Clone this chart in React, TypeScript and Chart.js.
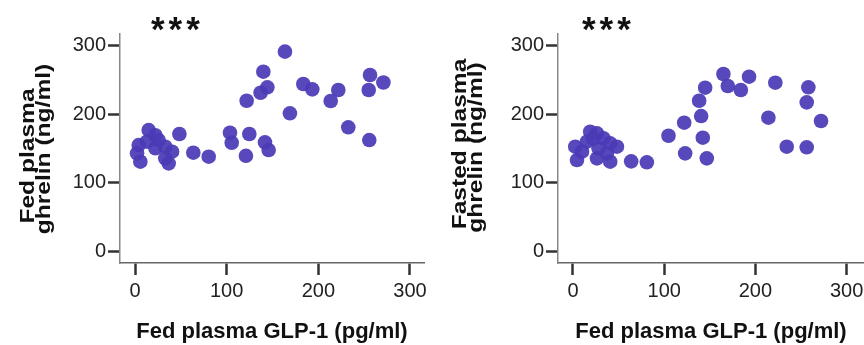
import React, { useEffect, useRef } from "react";
import { Chart, registerables } from "chart.js";

Chart.register(...registerables);

// ---- data ----
const fedGlp1Left: number[] = [
  163.6, 140, 121.8, 137, 144.4, 183.6, 193.4, 221.8, 213.5, 169,
  256.4, 271, 255, 232.7, 255.6, 103.6, 105.5, 124.7, 141.8, 145.8,
  121, 80.4, 63.6, 48.4, 14.9, 22.2, 4, 2.2, 5.8, 22.2,
  33, 33, 36.7, 25.8, 13, 40.4,
];
const fedGhrelin: number[] = [
  291, 261.8, 219.4, 231, 239, 243.8, 236, 235, 219, 201,
  257, 246, 235, 180.6, 162, 172.7, 158, 170.8, 158.7, 147.4,
  139, 137.7, 143.5, 170.8, 176.6, 169, 154.7, 142.6, 130.4, 150,
  152.3, 135.3, 128, 162, 159.6, 145,
];

const fedGlp1Right: number[] = [
  164.9, 169.7, 184, 193, 221.8, 258, 256.2, 271.9, 214.2, 234.3,
  256.2, 144.9, 138.3, 140.5, 121.9, 104.7, 142.3, 123, 146.7, 63.8,
  81, 2.5, 4.4, 18.9, 26.3, 15.3, 33.5, 40.8, 48.2, 28,
  37.2, 26.3, 40.8, 9.9, 22,
];
const fastedGhrelin: number[] = [
  258.4, 240.9, 235, 254.5, 245.7, 239, 217, 189.8, 194.6, 152.3,
  151.4, 238.4, 219.4, 197, 187.3, 168.3, 165.4, 142.6, 135.3, 130.9,
  129.5, 152.3, 132.8, 174.2, 171.8, 159.6, 164.5, 157.2, 152.3, 150,
  142.6, 135.3, 130.4, 145, 164,
];

const tickValues: number[] = [0, 100, 200, 300];
const xTitle = "Fed plasma GLP-1 (pg/ml)";
const leftYTitle: string[] = ["Fed plasma", "ghrelin (ng/ml)"];
const rightYTitle: string[] = ["Fasted plasma", "ghrelin (ng/ml)"];
const sigLabel = "***";

const FONT = "'Liberation Sans', Arial, Helvetica, sans-serif";
const DOT = "rgba(74, 58, 182, 0.93)";

type Cfg = {
  xs: number[];
  ys: number[];
  yTitle: string[];
  yTitleCenters: number[];
  yAxisWidth: number;
  xMin: number;
  xMax: number;
  sigX: number;
};

function makeChart(canvas: HTMLCanvasElement, c: Cfg) {
  const textPlugin = {
    id: "texts",
    afterDraw(chart: any) {
      const ctx = chart.ctx;
      ctx.save();
      // significance stars
      ctx.font = `bold 35px ${FONT}`;
      (ctx as any).letterSpacing = "4px";
      ctx.fillStyle = "#111";
      ctx.textAlign = "left";
      ctx.textBaseline = "alphabetic";
      ctx.fillText(sigLabel, c.sigX, 41);
      (ctx as any).letterSpacing = "0px";
      // rotated, slightly tall y-axis title (two lines)
      const baselines = [33.5, 50.2];
      ctx.font = `bold 21px ${FONT}`;
      ctx.textAlign = "center";
      c.yTitle.forEach((line, i) => {
        ctx.save();
        ctx.translate(baselines[i], c.yTitleCenters[i]);
        ctx.rotate(-Math.PI / 2);
        ctx.scale(1.17, 1);
        ctx.fillText(line, 0, 0);
        ctx.restore();
      });
      ctx.restore();
    },
  };

  return new Chart(canvas, {
    type: "scatter",
    data: {
      datasets: [
        {
          data: c.xs.map((x, i) => ({ x, y: c.ys[i] })),
          backgroundColor: DOT,
          borderWidth: 0,
          pointRadius: 7.3,
          pointHoverRadius: 7.3,
        },
      ],
    },
    options: {
      responsive: false,
      animation: false,
      events: [],
      layout: { padding: { top: 34, right: 8, bottom: 0, left: 0 } },
      plugins: {
        legend: { display: false },
        tooltip: { enabled: false },
        title: { display: false },
      },
      scales: {
        x: {
          type: "linear",
          min: c.xMin,
          max: c.xMax,
          afterBuildTicks: (s: any) => {
            s.ticks = tickValues.map((v) => ({ value: v }));
          },
          afterFit: (s: any) => {
            s.height = 82;
          },
          grid: {
            display: true,
            drawOnChartArea: false,
            drawTicks: true,
            tickLength: 12,
            tickColor: "#333",
            tickWidth: 2.5,
          },
          border: { display: true, color: "#666", width: 1.5 },
          ticks: {
            padding: 4.5,
            color: "#222",
            font: { family: FONT, size: 20 },
            maxRotation: 0,
            autoSkip: false,
          },
          title: {
            display: true,
            text: xTitle,
            color: "#111",
            font: { family: FONT, size: 22, weight: "bold" },
            padding: { top: 0, bottom: 0 },
          },
        },
        y: {
          type: "linear",
          min: -17.5,
          max: 316.8,
          afterBuildTicks: (s: any) => {
            s.ticks = tickValues.map((v) => ({ value: v }));
          },
          afterFit: (s: any) => {
            s.width = c.yAxisWidth;
          },
          grid: {
            display: true,
            drawOnChartArea: false,
            drawTicks: true,
            tickLength: 12,
            tickColor: "#333",
            tickWidth: 2.5,
          },
          border: { display: true, color: "#888", width: 1.5 },
          ticks: {
            padding: 2,
            color: "#222",
            font: { family: FONT, size: 20 },
          },
          title: { display: false },
        },
      },
    },
    plugins: [textPlugin],
  } as any);
}

export default function App() {
  const leftRef = useRef<HTMLCanvasElement>(null);
  const rightRef = useRef<HTMLCanvasElement>(null);

  useEffect(() => {
    const charts: Chart[] = [];
    if (leftRef.current) {
      charts.push(
        makeChart(leftRef.current, {
          xs: fedGlp1Left,
          ys: fedGhrelin,
          yTitle: leftYTitle,
          yTitleCenters: [156, 149],
          yAxisWidth: 120,
          xMin: -16.4,
          xMax: 315.3,
          sigX: 151,
        })
      );
    }
    if (rightRef.current) {
      charts.push(
        makeChart(rightRef.current, {
          xs: fedGlp1Right,
          ys: fastedGhrelin,
          yTitle: rightYTitle,
          yTitleCenters: [144, 147.5],
          yAxisWidth: 126,
          xMin: -16.4,
          xMax: 319,
          sigX: 150,
        })
      );
    }
    return () => charts.forEach((ch) => ch.destroy());
  }, []);

  return (
    <div
      style={{
        position: "fixed",
        left: 0,
        top: 0,
        width: 864,
        height: 345,
        overflow: "hidden",
        background: "#fff",
      }}
    >
      <canvas
        ref={leftRef}
        width={432}
        height={345}
        style={{ position: "absolute", left: 0, top: 0, width: 432, height: 345 }}
      />
      <canvas
        ref={rightRef}
        width={440}
        height={345}
        style={{ position: "absolute", left: 432, top: 0, width: 440, height: 345 }}
      />
    </div>
  );
}
